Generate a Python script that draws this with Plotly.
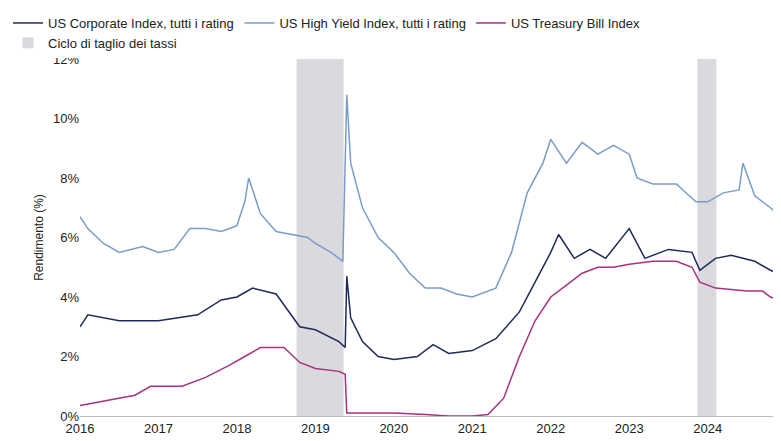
import plotly.graph_objects as go

# dates as decimal years, values in %
corp_x = [2016.0, 2016.1, 2016.5, 2017.0, 2017.5, 2017.8, 2018.0, 2018.2, 2018.5, 2018.8, 2019.0, 2019.3, 2019.38, 2019.4,
          2019.45, 2019.6, 2019.8, 2020.0, 2020.3, 2020.5, 2020.7, 2021.0, 2021.3, 2021.6, 2021.8, 2022.0, 2022.1,
          2022.3, 2022.5, 2022.7, 2023.0, 2023.2, 2023.5, 2023.8, 2023.9, 2024.1, 2024.3, 2024.6, 2024.8, 2024.96]
corp_y = [3.0, 3.4, 3.2, 3.2, 3.4, 3.9, 4.0, 4.3, 4.1, 3.0, 2.9, 2.5, 2.3, 4.7,
          3.3, 2.5, 2.0, 1.9, 2.0, 2.4, 2.1, 2.2, 2.6, 3.5, 4.5, 5.5, 6.1,
          5.3, 5.6, 5.3, 6.3, 5.3, 5.6, 5.5, 4.9, 5.3, 5.4, 5.2, 4.9, 4.7]

hy_x = [2016.0, 2016.1, 2016.3, 2016.5, 2016.8, 2017.0, 2017.2, 2017.4, 2017.6, 2017.8, 2018.0, 2018.1, 2018.15,
        2018.3, 2018.5, 2018.7, 2018.9, 2019.0, 2019.2, 2019.35, 2019.4, 2019.45, 2019.6, 2019.8, 2020.0, 2020.2,
        2020.4, 2020.6, 2020.8, 2021.0, 2021.3, 2021.5, 2021.7, 2021.9, 2022.0, 2022.2, 2022.4, 2022.6, 2022.8,
        2023.0, 2023.1, 2023.3, 2023.6, 2023.85, 2024.0, 2024.2, 2024.4, 2024.45, 2024.6, 2024.8, 2024.96]
hy_y = [6.7, 6.3, 5.8, 5.5, 5.7, 5.5, 5.6, 6.3, 6.3, 6.2, 6.4, 7.2, 8.0,
        6.8, 6.2, 6.1, 6.0, 5.8, 5.5, 5.2, 10.8, 8.5, 7.0, 6.0, 5.5, 4.8,
        4.3, 4.3, 4.1, 4.0, 4.3, 5.5, 7.5, 8.5, 9.3, 8.5, 9.2, 8.8, 9.1,
        8.8, 8.0, 7.8, 7.8, 7.2, 7.2, 7.5, 7.6, 8.5, 7.4, 7.0, 6.6]

tb_x = [2016.0, 2016.3, 2016.7, 2016.9, 2017.3, 2017.6, 2017.9, 2018.1, 2018.3, 2018.6, 2018.8, 2019.0, 2019.3,
        2019.38, 2019.4, 2019.6, 2020.0, 2020.4, 2020.7, 2021.0, 2021.2, 2021.4, 2021.6, 2021.8, 2022.0, 2022.2,
        2022.4, 2022.6, 2022.8, 2023.0, 2023.3, 2023.6, 2023.8, 2023.9, 2024.1, 2024.5, 2024.7, 2024.8, 2024.96]
tb_y = [0.35, 0.5, 0.7, 1.0, 1.0, 1.3, 1.7, 2.0, 2.3, 2.3, 1.8, 1.6, 1.5,
        1.4, 0.1, 0.1, 0.1, 0.05, 0.0, 0.0, 0.05, 0.6, 2.0, 3.2, 4.0, 4.4,
        4.8, 5.0, 5.0, 5.1, 5.2, 5.2, 5.0, 4.5, 4.3, 4.2, 4.2, 4.0, 3.85]

cut_start = [2018.76, 2023.87, 2024.88]
cut_end = [2019.36, 2024.11, 2025.0]

years = list(range(2016, 2025))
yticks = list(range(0, 13, 2))

fig = go.Figure()
fig.add_trace(go.Scatter(x=corp_x, y=corp_y, mode="lines", name="US Corporate Index, tutti i rating",
                         line=dict(color="#1f2a5a", width=1.5)))
fig.add_trace(go.Scatter(x=hy_x, y=hy_y, mode="lines", name="US High Yield Index, tutti i rating",
                         line=dict(color="#7a9cc9", width=1.5)))
fig.add_trace(go.Scatter(x=tb_x, y=tb_y, mode="lines", name="US Treasury Bill Index",
                         line=dict(color="#a8327d", width=1.5)))
fig.add_trace(go.Scatter(x=[None], y=[None], mode="markers", name="Ciclo di taglio dei tassi",
                         marker=dict(symbol="square", size=11, color="#d9d9de")))

for s, e in zip(cut_start, cut_end):
    fig.add_vrect(x0=s, x1=e, fillcolor="#d9d9de", opacity=1, line_width=0, layer="below")

fig.update_layout(
    width=781, height=441,
    margin=dict(l=72, r=6, t=51, b=33, autoexpand=False),
    paper_bgcolor="white", plot_bgcolor="white",
    font=dict(family="Liberation Sans, Arial", size=13, color="#222"),
    legend=dict(orientation="h", x=0, xref="container", y=1, yref="container",
                xanchor="left", yanchor="top",
                font=dict(size=13), itemwidth=30, tracegroupgap=0),
    showlegend=True,
)
fig.update_xaxes(range=[2016, 2024.96], tickvals=years, ticktext=[str(y) for y in years],
                 showgrid=False, showline=True, linecolor="#bbb", ticks="", zeroline=False)
fig.update_yaxes(range=[0, 12], tickvals=yticks, ticktext=[f"{v}%" for v in yticks],
                 title=dict(text="Rendimento (%)", standoff=6, font=dict(size=12)),
                 showgrid=False, showline=False, zeroline=False)

fig.write_html("out.html")
